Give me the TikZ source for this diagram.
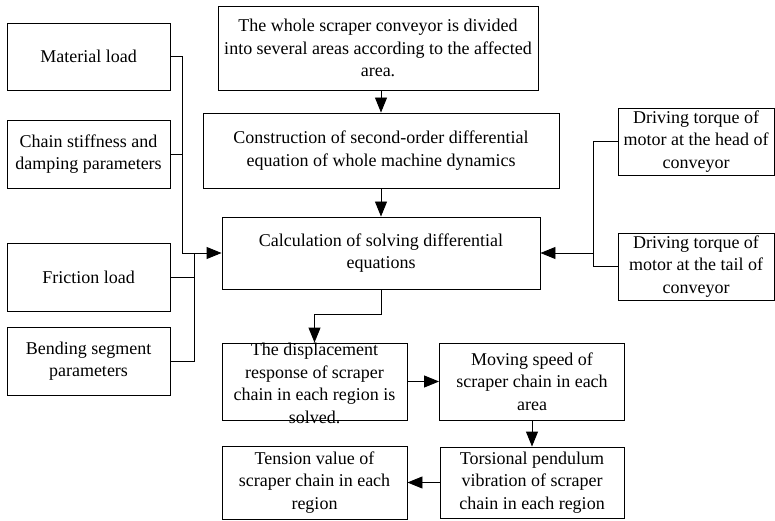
\documentclass[tikz,border=0pt]{standalone}
\usepackage{fontspec}
\setmainfont{Liberation Serif}
\usetikzlibrary{arrows.meta}
\newcommand{\fs}{\fontsize{18}{22.5}\selectfont}
\tikzset{
  box/.style={draw, line width=0.9pt, align=center, inner sep=0pt, font=\fs},
  conn/.style={draw, line width=0.9pt},
  arr/.style={conn, -{Triangle[length=15pt,width=12pt]}}
}
\begin{document}
\begin{tikzpicture}[x=1pt,y=-1pt]
\useasboundingbox (0,0) rectangle (775,521);
% left inputs
\node[box, minimum width=163pt, minimum height=67pt] (mat) at (88.5,56.5) {Material load};
\node[box, minimum width=163pt, minimum height=68pt] (stiff) at (88.5,154) {Chain stiffness and\\damping parameters};
\node[box, minimum width=163pt, minimum height=68pt] (fric) at (88.5,277) {Friction load};
\node[box, minimum width=163pt, minimum height=68pt] (bend) at (88.5,361) {Bending segment\\parameters};
% centre column
\node[box, minimum width=320pt, minimum height=84pt] (top) at (378,48) {The whole scraper conveyor is divided\\into several areas according to the affected\\area.};
\node[box, minimum width=356pt, minimum height=75pt] (constr) at (381,150.5) {Construction of second-order differential\\equation of whole machine dynamics};
\node[box, minimum width=318pt, minimum height=72pt] (calc) at (381,253) {Calculation of solving differential\\equations};
% right inputs
\node[box, minimum width=156pt, minimum height=67pt] (head) at (696,141.5) {Driving torque of\\motor at the head of\\conveyor};
\node[box, minimum width=156pt, minimum height=67pt] (tail) at (696,266.5) {Driving torque of\\motor at the tail of\\conveyor};
% bottom
\node[box, minimum width=185pt, minimum height=77pt] (disp) at (314.5,381.5) {};
\node[font=\fs, align=center, inner sep=0pt] (disptext) at (314.5,383.5) {The displacement\\response of scraper\\chain in each region is\\solved.};
\node[box, minimum width=185pt, minimum height=77pt] (move) at (532,381.5) {Moving speed of\\scraper chain in each\\area};
\node[box, minimum width=184pt, minimum height=71pt] (tors) at (532,482.5) {Torsional pendulum\\vibration of scraper\\chain in each region};
\node[box, minimum width=185pt, minimum height=73pt] (tens) at (314.5,482.5) {Tension value of\\scraper chain in each\\region};
% junctions
\coordinate (j1) at (182,253);
\coordinate (j2) at (194,253);
\coordinate (j3) at (593,253);
% connectors
\draw[conn] (mat.east) -| (j1);
\draw[conn] (stiff.east) -| (j1);
\draw[conn] (fric.east) -| (j2);
\draw[conn] (bend.east) -| (j2);
\draw[arr] (j1) -- (calc.west);
\draw[conn] (head.west) -| (j3);
\draw[conn] (tail.west) -| (j3);
\draw[arr] (j3) -- (calc.east);
\draw[arr] (constr.north |- top.south) -- (constr.north);
\draw[arr] (constr.south) -- (calc.north);
\draw[arr] (calc.south) -- ++(0,25) -| (disp.north);
\draw[arr] (disp.east) -- (move.west);
\draw[arr] (move.south) -- (tors.north);
\draw[arr] (tors.west) -- (tens.east);
\end{tikzpicture}
\end{document}
